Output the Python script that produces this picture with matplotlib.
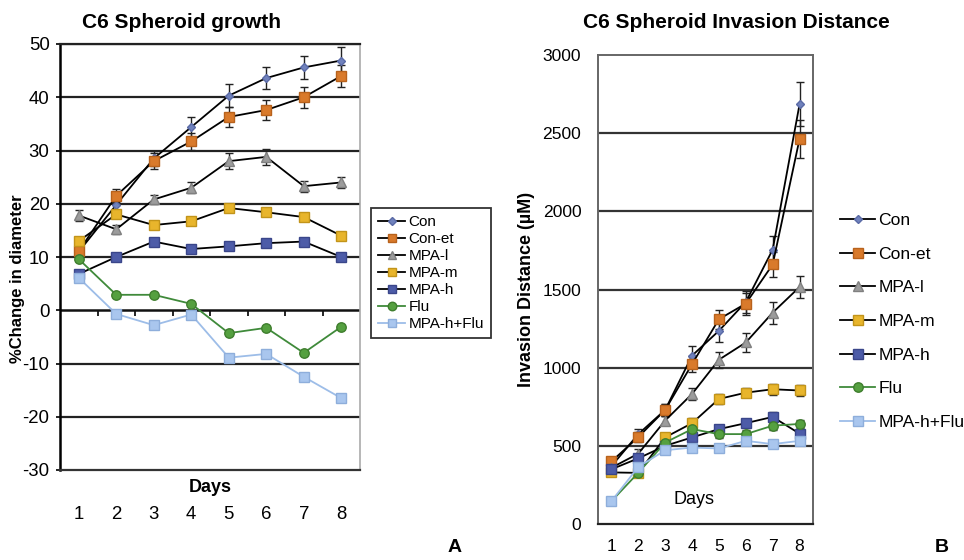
import matplotlib
matplotlib.use("Agg")
import matplotlib.pyplot as plt
from matplotlib.lines import Line2D

plt.rcParams['font.family'] = ['Liberation Sans', 'DejaVu Sans']
plt.rcParams['axes.unicode_minus'] = False

days = [1, 2, 3, 4, 5, 6, 7, 8]
series_names = ["Con", "Con-et", "MPA-l", "MPA-m", "MPA-h", "Flu", "MPA-h+Flu"]

# Panel A: % change in diameter
growth = {
    "Con":       [11.0, 19.8, 28.5, 34.4, 40.3, 43.6, 45.6, 46.9],
    "Con-et":    [11.1, 21.5, 28.0, 31.7, 36.3, 37.6, 40.0, 44.0],
    "MPA-l":     [17.8, 15.2, 20.8, 23.0, 28.0, 28.8, 23.3, 24.0],
    "MPA-m":     [13.0, 18.0, 16.0, 16.7, 19.2, 18.4, 17.5, 14.0],
    "MPA-h":     [6.8, 10.0, 12.9, 11.5, 12.0, 12.6, 12.9, 10.0],
    "Flu":       [9.6, 2.9, 2.9, 1.2, -4.3, -3.3, -8.0, -3.1],
    "MPA-h+Flu": [6.1, -0.7, -2.8, -0.8, -8.9, -8.2, -12.5, -16.5],
}
growth_err = {
    "Con":       [1.0, 1.5, 1.5, 1.8, 2.2, 2.0, 2.2, 2.5],
    "Con-et":    [1.0, 1.2, 1.5, 1.6, 1.8, 1.8, 2.0, 2.0],
    "MPA-l":     [1.0, 0.8, 0.9, 1.0, 1.5, 1.5, 1.0, 1.0],
    "MPA-m":     [0.6, 0.6, 0.6, 0.6, 0.6, 0.6, 0.6, 0.5],
    "MPA-h":     [0.5, 0.4, 0.4, 0.4, 0.4, 0.4, 0.4, 0.4],
    "Flu":       [0.4, 0.4, 0.4, 0.4, 0.4, 0.4, 0.4, 0.4],
    "MPA-h+Flu": [0.4, 0.4, 0.4, 0.4, 0.5, 0.5, 0.5, 0.7],
}

# Panel B: invasion distance
invasion = {
    "Con":       [370, 575, 730, 1077, 1236, 1420, 1755, 2685],
    "Con-et":    [400, 556, 730, 1023, 1310, 1410, 1660, 2463],
    "MPA-l":     [360, 450, 662, 832, 1051, 1161, 1352, 1516],
    "MPA-m":     [330, 327, 554, 645, 800, 840, 862, 854],
    "MPA-h":     [350, 420, 500, 554, 607, 645, 685, 578],
    "Flu":       [146, 328, 521, 607, 575, 575, 629, 640],
    "MPA-h+Flu": [146, 365, 472, 489, 483, 532, 511, 532],
}
invasion_err = {
    "Con":       [30, 30, 40, 60, 70, 70, 90, 140],
    "Con-et":    [30, 30, 40, 50, 60, 70, 80, 120],
    "MPA-l":     [25, 30, 30, 40, 50, 60, 70, 70],
    "MPA-m":     [20, 20, 25, 30, 30, 30, 35, 35],
    "MPA-h":     [20, 20, 20, 25, 25, 25, 30, 30],
    "Flu":       [15, 20, 20, 25, 25, 25, 25, 25],
    "MPA-h+Flu": [15, 20, 20, 20, 20, 20, 20, 20],
}

styles = {
    "Con":       dict(marker="D", mfc="#7082bd", mec="#5a6aa6", ms=4.5, line="black"),
    "Con-et":    dict(marker="s", mfc="#d97a2b", mec="#b8621c", ms=6.8, line="black"),
    "MPA-l":     dict(marker="^", mfc="#9c9c9c", mec="#808080", ms=7, line="black"),
    "MPA-m":     dict(marker="s", mfc="#e8b52c", mec="#c2941a", ms=6.8, line="black"),
    "MPA-h":     dict(marker="s", mfc="#4d5ca8", mec="#3a468a", ms=6.8, line="black"),
    "Flu":       dict(marker="o", mfc="#55a040", mec="#3f7e2e", ms=6.8, line="#3f8a3a"),
    "MPA-h+Flu": dict(marker="s", mfc="#a9c6ee", mec="#8eaedb", ms=6.8, line="#9dbde8"),
}


def legend_handles(scale=1.0):
    hs = []
    for name in series_names:
        st = styles[name]
        hs.append(Line2D([], [], color=st["line"], lw=1.3, marker=st["marker"],
                         ms=st["ms"] * scale, mfc=st["mfc"], mec=st["mec"]))
    return hs


fig = plt.figure(figsize=(9.64, 5.6), dpi=100)

# ---------------- Panel A ----------------
axA = fig.add_axes([60/964, 1-470/560, 300/964, 426/560])
for y in [-20, -10, 10, 20, 30, 40, 50]:
    axA.axhline(y, color="#222222", lw=1.6, zorder=1)
axA.axhline(0, color="#111111", lw=1.8, zorder=1)
for name in series_names:
    st = styles[name]
    axA.errorbar(days, growth[name], yerr=growth_err[name], color=st["line"],
                 ecolor="#222222", elinewidth=1.0, capsize=3, capthick=1.0,
                 lw=1.3, marker=st["marker"], ms=st["ms"], mfc=st["mfc"],
                 mec=st["mec"], zorder=3)
axA.set_xlim(0.5, 8.5)
axA.set_ylim(-30, 50)
axA.set_yticks(range(-30, 51, 10))
axA.set_xticks(days)
axA.tick_params(axis="x", length=0, pad=26, labelsize=13.4)
axA.tick_params(axis="y", length=3, width=1.2, pad=4.5, labelsize=13.4, direction="out")
axA.spines["right"].set_color("#aaaaaa")
axA.spines["right"].set_linewidth(1.2)
axA.spines["top"].set_color("#222222")
axA.spines["top"].set_linewidth(1.6)
axA.spines["left"].set_linewidth(1.8)
axA.spines["bottom"].set_linewidth(1.6)
axA.spines["bottom"].set_color("#333333")
sec = axA.secondary_xaxis(0.375)
sec.set_xticks([1.5, 2.5, 3.5, 4.5, 5.5, 6.5, 7.5])
sec.tick_params(length=4, width=1.2, labelbottom=False, direction="out")
sec.spines["bottom"].set_visible(False)
axA.text(0.5, -0.04, "Days", transform=axA.transAxes, ha="center", va="center",
         fontsize=13, fontweight="bold")
axA.set_ylabel("%Change in diameter", fontsize=12, fontweight="bold")
axA.yaxis.set_label_coords(-0.115, 0.45)
fig.text(82/964, 1-22/560, "C6 Spheroid growth", ha="left", va="center",
         fontsize=15, fontweight="bold")
legA = fig.legend(legend_handles(0.9), series_names, loc="upper left",
                  bbox_to_anchor=(371/964, 1-208/560), fontsize=11, frameon=True,
                  fancybox=False, edgecolor="black", handlelength=1.8,
                  handletextpad=0.2, labelspacing=0.2, borderpad=0.45,
                  borderaxespad=0)
legA.get_frame().set_linewidth(1.3)

# ---------------- Panel B ----------------
axB = fig.add_axes([598/964, 1-524/560, 215/964, 469/560])
for y in [500, 1000, 1500, 2000, 2500]:
    axB.axhline(y, color="#333333", lw=1.6, zorder=1)
for name in series_names:
    st = styles[name]
    axB.errorbar(days, invasion[name], yerr=invasion_err[name], color=st["line"],
                 ecolor="#222222", elinewidth=1.0, capsize=3, capthick=1.0,
                 lw=1.3, marker=st["marker"], ms=st["ms"], mfc=st["mfc"],
                 mec=st["mec"], zorder=3)
axB.set_xlim(0.5, 8.5)
axB.set_ylim(0, 3000)
axB.set_yticks(range(0, 3001, 500))
axB.set_xticks(days)
axB.tick_params(axis="x", length=0, pad=11, labelsize=12.6)
axB.tick_params(axis="y", length=0, pad=12, labelsize=12.6)
for s in ["top", "right", "left"]:
    axB.spines[s].set_color("#666666")
    axB.spines[s].set_linewidth(1.4)
axB.spines["bottom"].set_color("#222222")
axB.spines["bottom"].set_linewidth(1.6)
axB.text(694/964, 1-500/560, "Days", transform=fig.transFigure, ha="center",
         va="center", fontsize=13, family=["Liberation Sans Narrow", "Liberation Sans"])
axB.set_ylabel("Invasion Distance (µM)", fontsize=13, fontweight="bold")
axB.yaxis.set_label_coords(-0.295, 0.5)
fig.text(583/964, 1-22/560, "C6 Spheroid Invasion Distance", ha="left", va="center",
         fontsize=15, fontweight="bold")
legB = fig.legend(legend_handles(1.0), series_names, loc="upper left",
                  bbox_to_anchor=(840/964, 1-213/560), fontsize=12.6, frameon=False,
                  handlelength=2.0, handletextpad=0.2, labelspacing=1.05,
                  borderpad=0, borderaxespad=0)

fig.text(455/964, 1-548/560, "A", fontsize=14, fontweight="bold", ha="center", va="center")
fig.text(942/964, 1-548/560, "B", fontsize=14, fontweight="bold", ha="center", va="center")

fig.savefig("out.png", dpi=100)
